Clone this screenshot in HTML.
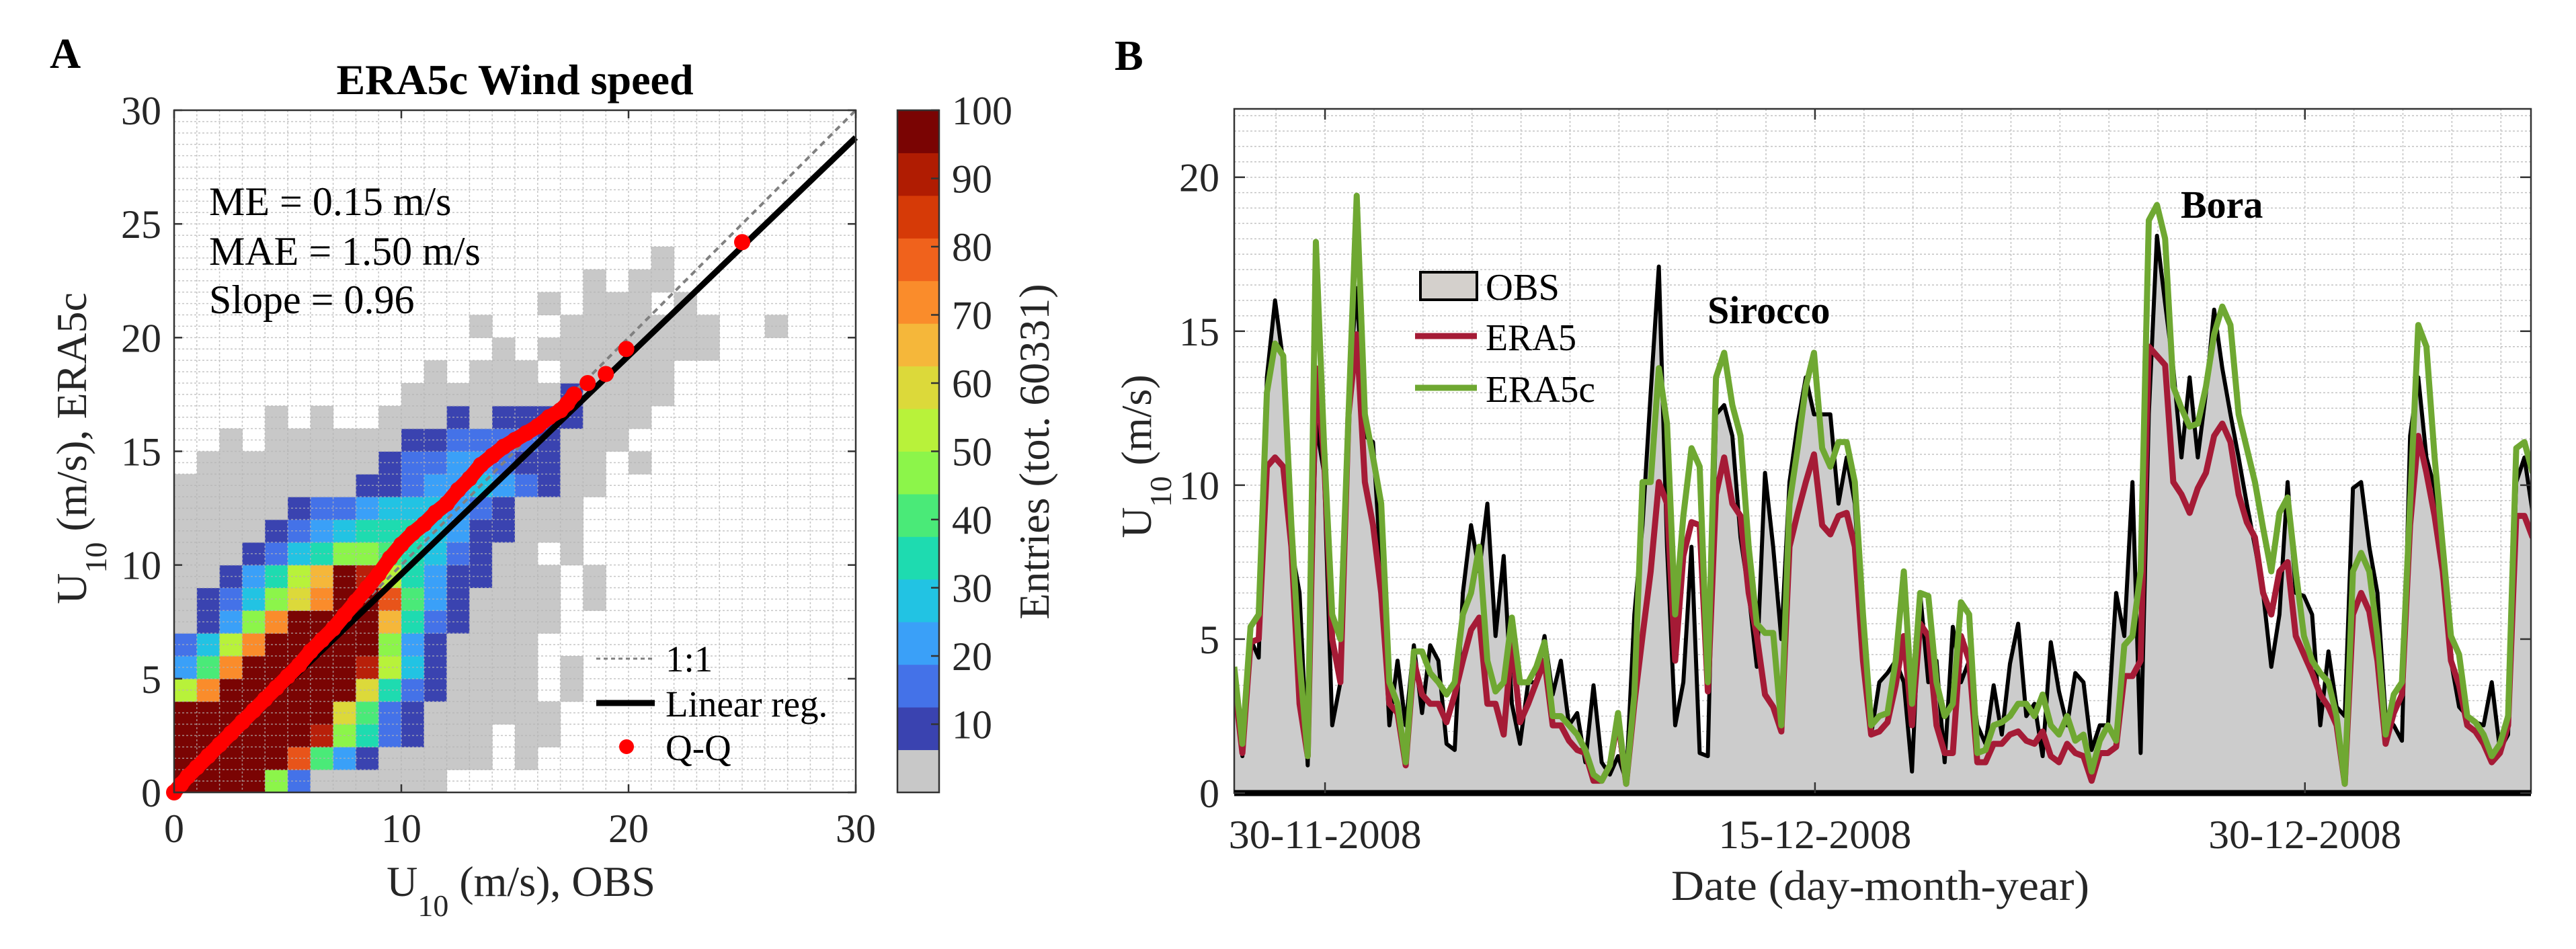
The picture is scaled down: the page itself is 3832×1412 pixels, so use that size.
<!DOCTYPE html>
<html><head><meta charset="utf-8"><style>
html,body{margin:0;padding:0;background:#fff;}
svg{display:block;font-family:"Liberation Serif","Times New Roman",serif;}
</style></head><body>
<svg id="fig" width="3832" height="1412" viewBox="0 0 3832 1412" xmlns="http://www.w3.org/2000/svg">
<defs>
<clipPath id="clipL"><rect x="259" y="164" width="1014" height="1015"/></clipPath>
<clipPath id="clipR"><rect x="1836" y="162" width="1929" height="1018"/></clipPath>
</defs>
<rect x="0" y="0" width="3832" height="1412" fill="#fff"/>
<g id="left"></g>
<g id="right"></g>
</svg>
<script>
// ---------- Panel A data ----------
const hmRows = [
"ffff83gggggg..................",
"fffffd742ggggg.g..............",
"ffffffe8632ggg.gg.............",
"fffffffa732gggggg.............",
"9cffffffa632gggg.g............",
"47cfffffe952gggg.g............",
"359cfffff842gggg..............",
"g248cffffb632gggg.............",
"g2358acffd742gggg.g...........",
"gg2469bfe96422ggg.g...........",
"ggg23568876532gg.g............",
"gggg23456665422ggg............",
"ggggg2334555432ggg............",
"gggggggg223445432gg...........",
".gggggggg23344322gg.g.........",
"..g.gggggg2233332ggg..........",
"....g.g..ggg2g2222ggg.........",
"..........ggggggg2gggg........",
"...........g.ggg.ggggg........",
"..............g.gggggggg......",
".............g...ggggggg..g...",
"................g.ggg.g.......",
"..................g.gg........",
".....................g........"
];
const levelChars = ["g","2","3","4","5","6","7","8","9","a","b","c","d","e","f"];
const levelColors = ["#c8c8c8","#3a43b0","#4472e8","#3aa0f8","#22c3e3","#1edbb0","#4aea78","#8cf54a","#b8f23a","#dcd93a","#f5b73a","#fa8c2b","#e8541a","#b8200a","#7a0403"];
const cbColors = ["#c8c8c8","#3a43b0","#4472e8","#3aa0f8","#22c3e3","#1edbb0","#4aea78","#8cf54a","#b8f23a","#dcd93a","#f5b73a","#fa8c2b","#f0621c","#d63a07","#b01c02","#7a0403"];
const cbTicks = [10,20,30,40,50,60,70,80,90,100];
const qqObs = [0,0.3,0.6,1,1.5,2,2.5,3,3.5,4,4.5,5,5.5,6,6.5,7,7.5,8,8.5,9,9.5,10,10.5,11,11.5,12,12.5,13,13.5,14,14.5,15,15.5,16,16.5,17,17.3,17.6,18.2,19,19.9,25];
const qqMod = [0,0.35,0.7,1.1,1.6,2.1,2.6,3.1,3.6,4.1,4.6,5.1,5.6,6.2,6.7,7.2,7.8,8.4,9.0,9.6,10.3,10.9,11.4,11.8,12.3,12.7,13.3,13.8,14.4,14.8,15.2,15.5,15.8,16.1,16.5,16.8,17.1,17.5,18.0,18.4,19.5,24.2];
const regSlope = 0.96, regIntercept = 0.0;
const lTicks = [0,10,20,30];
const lYTicks = [0,5,10,15,20,25,30];

// ---------- Panel B data ----------
const tStart = 0, tStep = 0.25; // days since start of record
const dateTickT = [2.78,17.78,32.78];
const dateTickLabels = ["30-11-2008","15-12-2008","30-12-2008"];
const rYTicks = [0,5,10,15,20];
const obs = [3.5,1.2,5.0,4.4,13.5,16.0,14.0,8.0,6.5,0.9,12.0,10.4,2.2,3.6,13.0,16.4,11.6,11.4,7.2,2.2,4.3,2.2,4.8,2.6,4.8,4.3,1.6,1.4,6.5,8.7,7.2,9.4,5.1,7.7,2.9,1.6,3.6,3.6,5.1,3.2,4.3,2.2,2.6,1.0,3.5,1.0,0.6,1.2,0.4,5.8,8.7,13.0,17.1,8.0,
2.2,3.6,8.0,1.3,1.2,12.3,12.6,11.6,8.3,6.5,4.1,10.4,8.0,5.0,10.1,12.0,13.5,12.3,12.3,12.3,9.4,10.9,9.4,5.0,1.9,3.6,3.9,4.3,3.6,0.7,6.5,3.6,4.3,1.0,5.4,3.6,4.3,2.2,1.6,3.5,1.9,4.2,5.5,2.5,2.9,1.2,4.9,3.3,2.2,3.9,3.6,1.4,2.2,
2.2,6.5,5.1,10.1,1.3,12.3,18.1,15.9,13.8,10.9,13.5,10.9,13.0,15.7,13.8,12.3,10.9,9.4,8.0,6.5,4.1,5.8,10.1,6.5,6.4,5.8,2.2,4.6,2.8,2.5,9.9,10.1,8.0,6.5,2.5,2.2,1.7,11.6,13.5,10.9,9.9,8.0,4.3,2.8,2.5,2.3,2.2,3.6,1.4,1.9,10.1,10.9,9.1];
const era5 = [3.6,1.3,4.9,5.0,10.6,10.9,10.6,8.0,2.9,1.2,13.8,10.9,5.0,3.6,12.3,14.9,10.1,8.7,6.5,2.9,2.6,0.9,4.3,3.2,2.9,2.9,2.3,3.2,4.3,5.3,5.7,2.9,2.9,1.9,5.0,2.3,2.9,3.6,4.3,2.2,2.2,1.7,1.4,1.3,0.4,0.4,0.9,2.4,0.3,2.9,5.1,7.2,10.1,9.4,
4.3,7.7,8.8,8.7,3.3,9.7,10.9,9.4,9.0,6.5,5.1,3.2,2.8,2.0,8.0,9.1,10.1,11.0,8.7,8.4,9.0,9.1,8.0,4.3,1.9,2.0,2.3,3.5,5.1,2.2,5.5,5.1,2.2,1.3,1.3,5.1,4.3,1.0,1.0,1.6,1.6,1.9,2.0,1.7,1.6,2.0,1.2,1.0,1.6,1.3,1.2,0.4,1.3,
1.3,1.5,3.8,3.8,4.3,14.5,14.2,13.9,10.1,9.7,9.1,9.9,10.4,11.6,12.0,11.4,9.7,8.8,8.3,6.5,5.8,7.2,7.5,5.1,4.5,3.9,3.2,2.8,2.2,0.3,5.8,6.5,5.9,4.3,1.6,2.6,3.2,8.7,11.6,10.4,9.0,7.2,4.3,3.5,2.2,2.0,1.6,1.0,1.3,2.2,9.0,9.0,8.3];
const era5c = [4.1,1.6,5.4,5.8,13,14.6,14.2,8.7,4.3,1.2,17.9,11.3,5.8,5.0,12.3,19.4,12.3,10.9,9.4,3.6,2.9,1.0,4.6,4.6,3.9,3.6,3.2,3.6,5.8,6.5,8.0,4.3,3.3,3.6,5.7,3.6,3.6,4.1,4.9,2.5,2.5,2.2,1.9,1.4,0.6,0.4,0.9,2.6,0.3,3.2,10.1,10.1,13.8,12.0,
5.8,9.0,11.2,10.6,3.6,13.5,14.3,12.6,11.6,8.0,5.5,5.2,5.2,2.2,9.4,11.2,13.2,14.3,11.2,10.6,11.4,11.4,10.1,5.8,2.2,2.5,2.6,4.3,7.2,2.9,6.5,6.4,3.6,2.5,2.9,6.2,5.8,1.3,1.4,2.2,2.3,2.5,2.9,2.9,2.5,3.2,2.2,1.9,2.5,1.7,1.9,0.7,1.7,
2.2,1.7,4.8,5.1,7.2,18.6,19.1,18.0,13.2,12.5,11.9,12.0,13.2,14.9,15.8,15.2,12.3,11.2,10.1,8.6,7.2,9.1,9.6,7.2,5.1,4.3,3.9,3.6,2.5,0.3,7.2,7.8,7.2,5.1,1.9,3.2,3.6,9.4,15.2,14.5,10.9,8.0,5.1,4.5,2.5,2.3,1.9,1.2,1.6,2.5,11.2,11.4,10.4];

const NS = "http://www.w3.org/2000/svg";
function mk(tag, attrs, parent){const e=document.createElementNS(NS,tag);for(const k in attrs)e.setAttribute(k,attrs[k]);parent.appendChild(e);return e;}

// ===== Panel A =====
const L = document.getElementById("left");
const LX0=259, LX1=1273, LY0=1179, LY1=164;
const lx = v => LX0 + v*(LX1-LX0)/30;
const ly = v => LY0 - v*(LY0-LY1)/30;
const hm = mk("g",{"clip-path":"url(#clipL)"},L);


hmRows.forEach((row,j)=>{
  for(let i=0;i<row.length;i++){
    const c=row[i]; const li=levelChars.indexOf(c); if(li<0) continue;
    const r=mk("rect",{x:lx(i),y:ly(j+1),width:lx(i+1)-lx(i)+0.5,height:ly(j)-ly(j+1)+0.5,fill:levelColors[li]},hm);
    
    
  }
});
// grid
const lg = mk("g",{stroke:"#b4b4b4","stroke-width":1.5,"stroke-dasharray":"3,3",opacity:0.75},L);


for(let v=1;v<30;v++){mk("line",{x1:lx(v),x2:lx(v),y1:LY1,y2:LY0},lg);}
for(let v=0.5;v<30;v+=0.5){mk("line",{x1:LX0,x2:LX1,y1:ly(v),y2:ly(v)},lg);}
// 1:1
const one = mk("line",{x1:lx(0),y1:ly(0),x2:lx(30),y2:ly(30),stroke:"#808080","stroke-width":4,"stroke-dasharray":"9,7","clip-path":"url(#clipL)"},L);


// regression
const reg = mk("line",{x1:lx(0),y1:ly(regIntercept),x2:lx(30),y2:ly(regIntercept+regSlope*30),stroke:"#000","stroke-width":9},L);


// QQ
const qg = mk("g",{},L);


let qpts = qqObs.slice(0,38).map((o,i)=>lx(o)+","+ly(qqMod[i])).join(" ");
mk("polyline",{points:qpts,fill:"none",stroke:"#ff0000","stroke-width":22,"stroke-linejoin":"round","stroke-linecap":"round"},qg);
qqObs.forEach((o,i)=>{
  const c=mk("circle",{cx:lx(o),cy:ly(qqMod[i]),r:12,fill:"#ff0000"},qg);
  
  
});
// axes box
const lb = mk("rect",{x:LX0,y:LY1,width:LX1-LX0,height:LY0-LY1,fill:"none",stroke:"#333","stroke-width":2.5},L);


lTicks.forEach(v=>{
  mk("line",{x1:lx(v),x2:lx(v),y1:LY0,y2:LY0-12,stroke:"#333","stroke-width":2.5},L);
  mk("line",{x1:lx(v),x2:lx(v),y1:LY1,y2:LY1+12,stroke:"#333","stroke-width":2.5},L);
  const t=mk("text",{x:lx(v),y:1253,"font-size":60,"text-anchor":"middle",fill:"#262626"},L);
  t.textContent=v;
  
  
});
lYTicks.forEach(v=>{
  mk("line",{x1:LX0,x2:LX0+12,y1:ly(v),y2:ly(v),stroke:"#333","stroke-width":2.5},L);
  mk("line",{x1:LX1,x2:LX1-12,y1:ly(v),y2:ly(v),stroke:"#333","stroke-width":2.5},L);
  const t=mk("text",{x:240,y:ly(v)+21,"font-size":60,"text-anchor":"end",fill:"#262626"},L);
  t.textContent=v;
  
  
});
// colorbar
const CB0=1179, CB1=164, CBX=1335, CBW=62;
const cb = mk("g",{},L);


const segH=(CB0-CB1)/cbColors.length;
cbColors.forEach((c,i)=>{mk("rect",{x:CBX,y:CB0-(i+1)*segH,width:CBW,height:segH+0.5,fill:c},cb);});
mk("rect",{x:CBX,y:CB1,width:CBW,height:CB0-CB1,fill:"none",stroke:"#333","stroke-width":2.5},cb);
cbTicks.forEach(v=>{
  const y=CB0-v/100*(CB0-CB1);
  mk("line",{x1:CBX+CBW,x2:CBX+CBW-12,y1:y,y2:y,stroke:"#333","stroke-width":2.5},cb);
  const t=mk("text",{x:1416,y:y+21,"font-size":60,fill:"#262626"},cb);
  t.textContent=v;
  
  
});
</script>
<script>
// ===== Panel B =====
const R = document.getElementById("right");
const RX0=1836, RX1=3765, RY0=1180, RY1=162, TMAX=39.7, VMAX=22.22;
const rx = t => RX0 + t*(RX1-RX0)/TMAX;
const ry = v => RY0 - v*(RY0-RY1)/VMAX;
const rg = mk("g",{stroke:"#b4b4b4","stroke-width":1.5,"stroke-dasharray":"3,3",opacity:0.8},R);


for(let t=dateTickT[0]-1.5;t<TMAX;t+=1.5){ if(t>0) mk("line",{x1:rx(t),x2:rx(t),y1:RY1,y2:RY0},rg); }
for(let v=0.5;v<VMAX;v+=0.5){mk("line",{x1:RX0,x2:RX1,y1:ry(v),y2:ry(v)},rg);}
const ts = obs.map((_,i)=>tStart+i*tStep);
const sg = mk("g",{"clip-path":"url(#clipR)"},R);
let areaPts = rx(ts[0])+","+ry(0)+" "+ts.map((t,i)=>rx(t)+","+ry(obs[i])).join(" ")+" "+rx(ts[ts.length-1])+","+ry(0);
const area = mk("polygon",{points:areaPts,fill:"#cccccc"},sg);


const lo = mk("polyline",{points:ts.map((t,i)=>rx(t)+","+ry(obs[i])).join(" "),fill:"none",stroke:"#000","stroke-width":6,"stroke-linejoin":"round"},sg);


const le = mk("polyline",{points:ts.map((t,i)=>rx(t)+","+ry(era5[i])).join(" "),fill:"none",stroke:"#a51b36","stroke-width":9,"stroke-linejoin":"round"},sg);


const lc = mk("polyline",{points:ts.map((t,i)=>rx(t)+","+ry(era5c[i])).join(" "),fill:"none",stroke:"#6fa832","stroke-width":9,"stroke-linejoin":"round"},sg);


const rb = mk("rect",{x:RX0,y:RY1,width:RX1-RX0,height:RY0-RY1,fill:"none",stroke:"#333","stroke-width":2.5},R);


const base = mk("line",{x1:RX0,x2:RX1,y1:RY0,y2:RY0,stroke:"#000","stroke-width":9},R);


rYTicks.forEach(v=>{
  mk("line",{x1:RX0,x2:RX0+16,y1:ry(v),y2:ry(v),stroke:"#333","stroke-width":2.5},R);
  mk("line",{x1:RX1,x2:RX1-16,y1:ry(v),y2:ry(v),stroke:"#333","stroke-width":2.5},R);
  const t=mk("text",{x:1814,y:ry(v)+21,"font-size":60,"text-anchor":"end",fill:"#262626"},R);
  t.textContent=v;
  
  
});
dateTickT.forEach((tt,i)=>{
  mk("line",{x1:rx(tt),x2:rx(tt),y1:RY0,y2:RY0-16,stroke:"#333","stroke-width":2.5},R);
  mk("line",{x1:rx(tt),x2:rx(tt),y1:RY1,y2:RY1+16,stroke:"#333","stroke-width":2.5},R);
  const t=mk("text",{x:rx(tt),y:1262,"font-size":60,"text-anchor":"middle",fill:"#262626",textLength:287,lengthAdjust:"spacingAndGlyphs"},R);
  t.textContent=dateTickLabels[i];
  
  
});
</script>
<script>
// static text
const S=document.getElementById("fig");
function txt(x,y,s,attrs,name){const t=mk("text",Object.assign({x:x,y:y,fill:"#000"},attrs),S);t.textContent=s;
  
  return t;}
txt(74,101,"A",{"font-size":64,"font-weight":"bold"},"panel-label-a");
txt(766,140,"ERA5c Wind speed",{"font-size":64,"font-weight":"bold","text-anchor":"middle"},"chart-title");
txt(311,320,"ME = 0.15 m/s",{"font-size":60},"stat-me");
txt(311,394,"MAE = 1.50 m/s",{"font-size":60},"stat-mae");
txt(311,466,"Slope = 0.96",{"font-size":60},"stat-slope");
// left legend
const lgd=mk("g",{},S);


mk("line",{x1:887,x2:974,y1:980,y2:980,stroke:"#808080","stroke-width":3,"stroke-dasharray":"6,5"},lgd);
mk("line",{x1:887,x2:974,y1:1046,y2:1046,stroke:"#000","stroke-width":9},lgd);
mk("circle",{cx:932,cy:1111,r:11,fill:"#ff0000"},lgd);
txt(990,999,"1:1",{"font-size":55},"legend-entry-one-to-one");
txt(990,1066,"Linear reg.",{"font-size":55},"legend-entry-linear-reg");
txt(990,1131,"Q-Q",{"font-size":55},"legend-entry-qq");
// axis labels A
const xl=txt(775,1333,"",{"font-size":64,"text-anchor":"middle",fill:"#262626"},"x-axis-title");
xl.innerHTML='U<tspan dy="30" font-size="46">10</tspan><tspan dy="-30"> (m/s), OBS</tspan>';
const yl=txt(128,667,"",{"font-size":64,"text-anchor":"middle",fill:"#262626",transform:"rotate(-90 128 667)"},"y-axis-title");
yl.innerHTML='U<tspan dy="30" font-size="46">10</tspan><tspan dy="-30"> (m/s), ERA5c</tspan>';
txt(1560,672,"Entries (tot. 60331)",{"font-size":64,"text-anchor":"middle",fill:"#262626",transform:"rotate(-90 1560 672)"},"colorbar-title");
// panel B
txt(1658,104,"B",{"font-size":64,"font-weight":"bold"},"panel-label-b");
txt(2797,1339,"Date (day-month-year)",{"font-size":64,"text-anchor":"middle",fill:"#262626",textLength:622,lengthAdjust:"spacingAndGlyphs"},"x-axis-title-b");
const yl2=txt(1712,679,"",{"font-size":64,"text-anchor":"middle",fill:"#262626",transform:"rotate(-90 1712 679)"},"y-axis-title-b");
yl2.innerHTML='U<tspan dy="30" font-size="46">10</tspan><tspan dy="-30"> (m/s)</tspan>';
txt(2540,481,"Sirocco",{"font-size":58,"font-weight":"bold"},"annotation-sirocco");
txt(3244,324,"Bora",{"font-size":58,"font-weight":"bold"},"annotation-bora");
const lgb=mk("g",{},S);


mk("rect",{x:2113,y:405,width:84,height:41,fill:"#d4d0cc",stroke:"#000","stroke-width":4},lgb);
mk("line",{x1:2105,x2:2197,y1:500,y2:500,stroke:"#a51b36","stroke-width":9},lgb);
mk("line",{x1:2105,x2:2197,y1:577,y2:577,stroke:"#6fa832","stroke-width":9},lgb);
txt(2210,446,"OBS",{"font-size":56,textLength:110,lengthAdjust:"spacingAndGlyphs"},"legend-entry-obs");
txt(2210,521,"ERA5",{"font-size":56,textLength:135,lengthAdjust:"spacingAndGlyphs"},"legend-entry-era5");
txt(2210,598,"ERA5c",{"font-size":56,textLength:163,lengthAdjust:"spacingAndGlyphs"},"legend-entry-era5c");
</script>
</body></html>
